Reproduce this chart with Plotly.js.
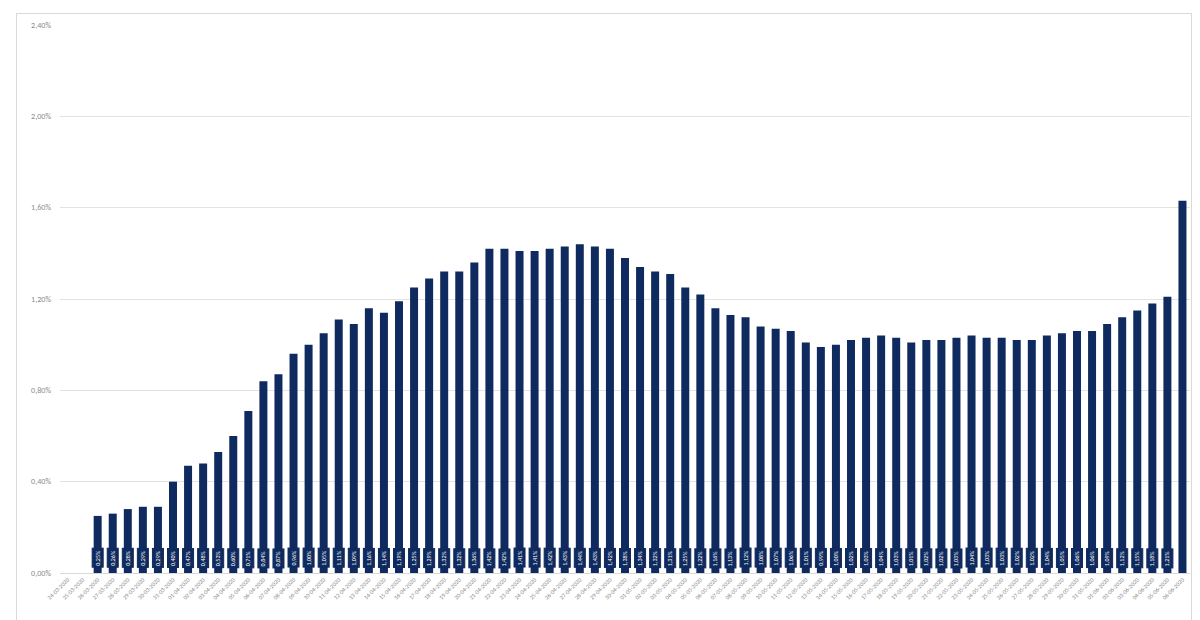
<!DOCTYPE html>
<html>
<head>
<meta charset="utf-8">
<script src="https://cdn.plot.ly/plotly-3.0.1.min.js"></script>
<style>
  html, body { margin: 0; padding: 0; background: #ffffff; }
  #wrap { position: relative; width: 1200px; height: 620px; overflow: hidden; }
  #frame { position: absolute; left: 16px; top: 13px; width: 1176px; height: 640px; border: 1px solid #d9d9d9; box-sizing: border-box; pointer-events: none; }
  #chart { position: absolute; left: 0; top: 0; width: 1200px; height: 620px; }
</style>
</head>
<body>
<div id="wrap">
  <div id="chart"></div>
  <div id="frame"></div>
</div>
<script>
const dates = [
  "24-03-2020","25-03-2020","26-03-2020","27-03-2020","28-03-2020","29-03-2020","30-03-2020","31-03-2020",
  "01-04-2020","02-04-2020","03-04-2020","04-04-2020","05-04-2020","06-04-2020","07-04-2020","08-04-2020",
  "09-04-2020","10-04-2020","11-04-2020","12-04-2020","13-04-2020","14-04-2020","15-04-2020","16-04-2020",
  "17-04-2020","18-04-2020","19-04-2020","20-04-2020","21-04-2020","22-04-2020","23-04-2020","24-04-2020",
  "25-04-2020","26-04-2020","27-04-2020","28-04-2020","29-04-2020","30-04-2020",
  "01-05-2020","02-05-2020","03-05-2020","04-05-2020","05-05-2020","06-05-2020","07-05-2020","08-05-2020",
  "09-05-2020","10-05-2020","11-05-2020","12-05-2020","13-05-2020","14-05-2020","15-05-2020","16-05-2020",
  "17-05-2020","18-05-2020","19-05-2020","20-05-2020","21-05-2020","22-05-2020","23-05-2020","24-05-2020",
  "25-05-2020","26-05-2020","27-05-2020","28-05-2020","29-05-2020","30-05-2020","31-05-2020",
  "01-06-2020","02-06-2020","03-06-2020","04-06-2020","05-06-2020","06-06-2020"
];

// values in percent
const rates = [
  null, null, 0.25, 0.26, 0.28, 0.29, 0.29, 0.40,
  0.47, 0.48, 0.53, 0.60, 0.71, 0.84, 0.87, 0.96,
  1.00, 1.05, 1.11, 1.09, 1.16, 1.14, 1.19, 1.25,
  1.29, 1.32, 1.32, 1.36, 1.42, 1.42, 1.41, 1.41,
  1.42, 1.43, 1.44, 1.43, 1.42, 1.38,
  1.34, 1.32, 1.31, 1.25, 1.22, 1.16, 1.13, 1.12,
  1.08, 1.07, 1.06, 1.01, 0.99, 1.00, 1.02, 1.03,
  1.04, 1.03, 1.01, 1.02, 1.02, 1.03, 1.04, 1.03,
  1.03, 1.02, 1.02, 1.04, 1.05, 1.06, 1.06,
  1.09, 1.12, 1.15, 1.18, 1.21, 1.63
];

// the last bar carries no data label in the original
const labelled = dates.map((d, i) => rates[i] !== null && i < dates.length - 1);

const navy = "#0f2a5e";

const annotations = [];
dates.forEach((d, i) => {
  if (!labelled[i]) return;
  annotations.push({
    x: d, y: 0, xref: "x", yref: "y",
    yanchor: "middle", yshift: 15,
    text: rates[i].toFixed(2).replace(".", ",") + "%",
    textangle: -90,
    showarrow: false,
    bgcolor: navy,
    bordercolor: navy,
    borderpad: 1,
    borderwidth: 1,
    font: { family: "Calibri, Carlito, 'Liberation Sans', Arial, sans-serif", size: 6, color: "#ffffff" }
  });
});

const trace = {
  type: "bar",
  x: dates,
  y: rates,
  marker: { color: navy },
  hoverinfo: "x+y"
};

const layout = {
  width: 1200, height: 620,
  margin: { l: 60, r: 10, t: 25, b: 47 },
  paper_bgcolor: "rgba(0,0,0,0)",
  plot_bgcolor: "#ffffff",
  separators: ",.",
  bargap: 0.47,
  showlegend: false,
  font: { family: "Calibri, Carlito, 'Liberation Sans', Arial, sans-serif", color: "#8c8c8c" },
  xaxis: {
    type: "category",
    categoryorder: "array",
    categoryarray: dates,
    tickangle: -45,
    tickfont: { size: 6, color: "#8c8c8c" },
    showgrid: false,
    showline: true,
    linecolor: "#d9d9d9",
    linewidth: 1,
    ticks: "",
    automargin: false
  },
  yaxis: {
    range: [0, 2.4],
    dtick: 0.4,
    tick0: 0,
    tickformat: ".2f",
    ticksuffix: "%",
    tickfont: { size: 8, color: "#8c8c8c" },
    showgrid: true,
    gridcolor: "#e3e3e3",
    gridwidth: 1,
    zeroline: false,
    showline: false,
    ticks: "",
    ticklabelstandoff: 8,
    automargin: false
  },
  annotations: annotations
};

Plotly.newPlot("chart", [trace], layout, { displayModeBar: false, staticPlot: true });
</script>
</body>
</html>
